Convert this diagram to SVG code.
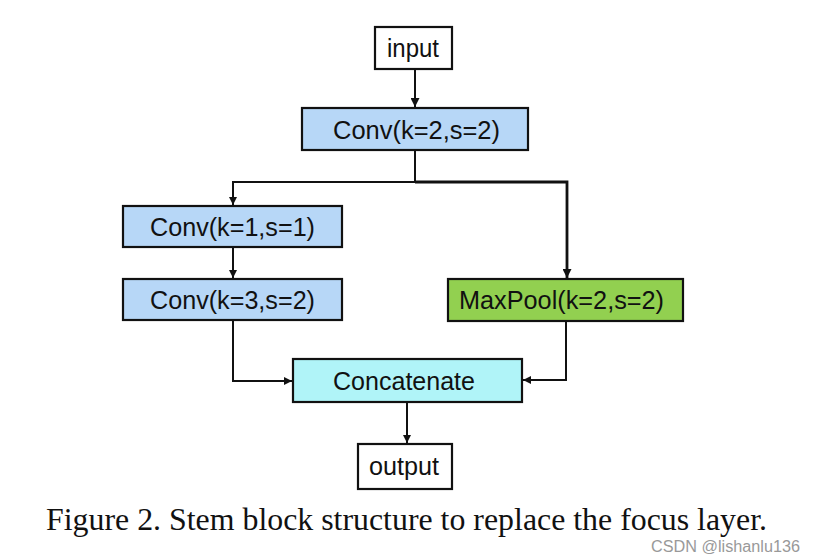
<svg xmlns="http://www.w3.org/2000/svg" width="815" height="559" viewBox="0 0 815 559">
<style>
.box{stroke:#111;stroke-width:2.2}
.lbl{font-family:"Liberation Sans",Arial,sans-serif;font-size:25px;fill:#111;text-anchor:middle}
.c{fill:none;stroke:#111;stroke-width:2}
.ct{fill:none;stroke:#111;stroke-width:2.8}
</style>
<defs>
<marker id="ah" viewBox="0 0 10 10" refX="10" refY="5" markerWidth="8" markerHeight="8" markerUnits="userSpaceOnUse" orient="auto"><path d="M0,0 L10,5 L0,10 z" fill="#111"/></marker>
<marker id="ah2" viewBox="0 0 10 10" refX="10" refY="5" markerWidth="9" markerHeight="9" markerUnits="userSpaceOnUse" orient="auto"><path d="M0,0 L10,5 L0,10 z" fill="#111"/></marker>
</defs>
<rect width="815" height="559" fill="#fff"/>
<g id="connectors">
<path class="c" d="M415,69 V107" marker-end="url(#ah2)"/>
<path class="c" d="M415,150 V182 H233 V205" marker-end="url(#ah)"/>
<path class="ct" d="M415,182 H567 V278" marker-end="url(#ah2)"/>
<path class="c" d="M233,247 V278" marker-end="url(#ah)"/>
<path class="c" d="M233,320 V381 H292" marker-end="url(#ah)"/>
<path class="c" d="M566,321 V380 H523" marker-end="url(#ah)"/>
<path class="c" d="M407,402 V443" marker-end="url(#ah)"/>
</g>
<g id="input"><rect class="box" x="375" y="27" width="77" height="42" fill="#fff"/><text class="lbl" x="413" y="57" textLength="52" lengthAdjust="spacingAndGlyphs">input</text></g>
<g id="conv1"><rect class="box" x="302" y="108" width="226" height="42" fill="#b7d7f7"/><text class="lbl" x="416.5" y="139" textLength="167" lengthAdjust="spacingAndGlyphs">Conv(k=2,s=2)</text></g>
<g id="conv2"><rect class="box" x="123" y="206" width="219" height="41" fill="#b7d7f7"/><text class="lbl" x="232.5" y="236" textLength="165" lengthAdjust="spacingAndGlyphs">Conv(k=1,s=1)</text></g>
<g id="conv3"><rect class="box" x="123" y="279" width="219" height="41" fill="#b7d7f7"/><text class="lbl" x="232.5" y="309" textLength="165" lengthAdjust="spacingAndGlyphs">Conv(k=3,s=2)</text></g>
<g id="maxpool"><rect class="box" x="448" y="279" width="235" height="42" fill="#92d050"/><text class="lbl" x="561.5" y="309" textLength="205" lengthAdjust="spacingAndGlyphs">MaxPool(k=2,s=2)</text></g>
<g id="concat"><rect class="box" x="293" y="359" width="229" height="43" fill="#b0f4f8"/><text class="lbl" x="404" y="390" textLength="142" lengthAdjust="spacingAndGlyphs">Concatenate</text></g>
<g id="output"><rect class="box" x="358" y="444" width="94" height="45" fill="#fff"/><text class="lbl" x="404" y="475" textLength="70" lengthAdjust="spacingAndGlyphs">output</text></g>
<text x="46" y="530" font-family="'Liberation Serif','Times New Roman',serif" font-size="32" fill="#111" textLength="721" lengthAdjust="spacingAndGlyphs">Figure 2. Stem block structure to replace the focus layer.</text>
<text x="651" y="552" font-family="'Liberation Sans',Arial,sans-serif" font-size="16" fill="#999" textLength="149" lengthAdjust="spacingAndGlyphs">CSDN @lishanlu136</text>
</svg>
